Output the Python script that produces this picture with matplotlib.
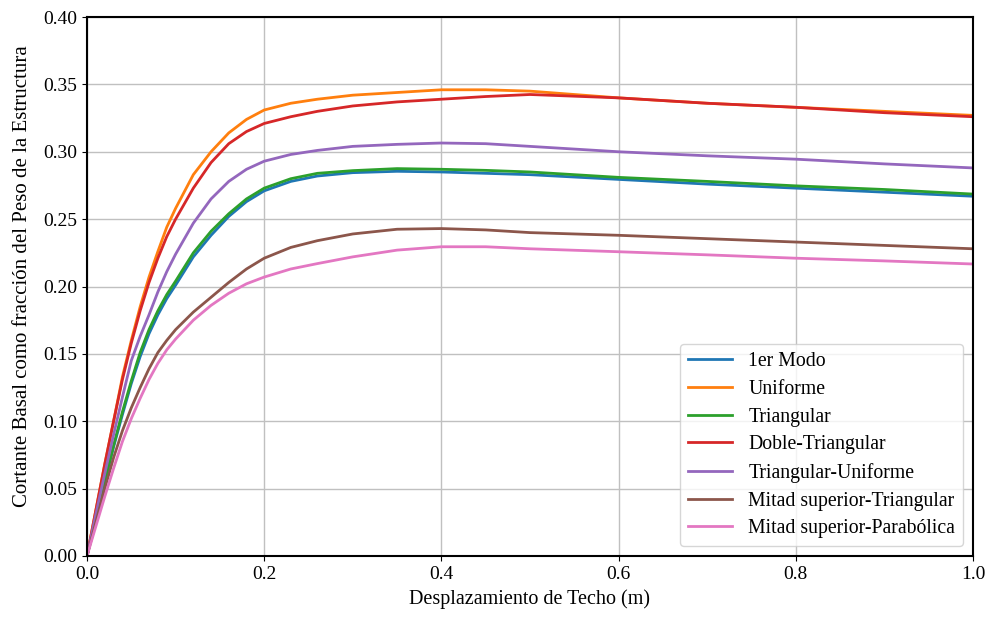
import matplotlib
matplotlib.use("Agg")
import matplotlib.pyplot as plt

plt.rcParams['font.family'] = ['Liberation Serif', 'DejaVu Serif']
plt.rcParams['font.size'] = 14

# desplazamiento de techo (m)
desp = [0, 0.01, 0.02, 0.03, 0.04, 0.05, 0.06, 0.07, 0.08, 0.09, 0.10,
        0.12, 0.14, 0.16, 0.18, 0.20, 0.23, 0.26, 0.30, 0.35, 0.40,
        0.45, 0.50, 0.60, 0.70, 0.80, 0.90, 1.00]

# cortante basal / peso para cada patron de carga
modo1 = [0, 0.028, 0.055, 0.081, 0.105, 0.128, 0.148, 0.165, 0.179, 0.191, 0.201,
         0.222, 0.238, 0.252, 0.263, 0.271, 0.278, 0.282, 0.2845, 0.2855, 0.285,
         0.284, 0.283, 0.2795, 0.276, 0.273, 0.270, 0.267]
uniforme = [0, 0.034, 0.068, 0.100, 0.133, 0.160, 0.185, 0.207, 0.226, 0.244, 0.258,
            0.283, 0.300, 0.314, 0.324, 0.331, 0.336, 0.339, 0.342, 0.344, 0.346,
            0.346, 0.345, 0.340, 0.336, 0.333, 0.330, 0.327]
triangular = [0, 0.028, 0.055, 0.082, 0.107, 0.130, 0.151, 0.168, 0.182, 0.194, 0.204,
              0.225, 0.241, 0.254, 0.265, 0.273, 0.280, 0.284, 0.286, 0.2875, 0.287,
              0.2862, 0.285, 0.281, 0.278, 0.2747, 0.272, 0.2686]
doble_tri = [0, 0.034, 0.068, 0.100, 0.131, 0.158, 0.182, 0.203, 0.221, 0.237, 0.250,
             0.273, 0.292, 0.306, 0.315, 0.321, 0.326, 0.330, 0.334, 0.337, 0.339,
             0.341, 0.3425, 0.340, 0.336, 0.333, 0.329, 0.326]
tri_unif = [0, 0.031, 0.061, 0.090, 0.118, 0.145, 0.163, 0.179, 0.196, 0.211, 0.224,
            0.247, 0.265, 0.278, 0.287, 0.293, 0.298, 0.301, 0.304, 0.3055, 0.3065,
            0.306, 0.304, 0.300, 0.297, 0.2945, 0.291, 0.288]
mitad_tri = [0, 0.025, 0.050, 0.073, 0.093, 0.110, 0.125, 0.139, 0.151, 0.160, 0.168,
             0.181, 0.192, 0.203, 0.213, 0.221, 0.229, 0.234, 0.239, 0.2425, 0.243,
             0.242, 0.240, 0.238, 0.2355, 0.233, 0.2305, 0.228]
mitad_par = [0, 0.022, 0.044, 0.065, 0.085, 0.102, 0.117, 0.131, 0.143, 0.153, 0.161,
             0.175, 0.186, 0.195, 0.202, 0.207, 0.213, 0.217, 0.222, 0.227, 0.2295,
             0.2295, 0.228, 0.2258, 0.2235, 0.221, 0.219, 0.2167]

series = [
    ('1er Modo', modo1),
    ('Uniforme', uniforme),
    ('Triangular', triangular),
    ('Doble-Triangular', doble_tri),
    ('Triangular-Uniforme', tri_unif),
    ('Mitad superior-Triangular', mitad_tri),
    ('Mitad superior-Parabólica', mitad_par),
]

fig, ax = plt.subplots(figsize=(9.91, 6.17), dpi=100)
fig.subplots_adjust(left=0.0878, right=0.9818, top=0.9724, bottom=0.0989)

for nombre, valores in series:
    ax.plot(desp, valores, lw=2, label=nombre)

ax.set_xlim(0, 1)
ax.set_ylim(0, 0.4)
ax.set_xticks([0, 0.2, 0.4, 0.6, 0.8, 1.0])
ax.set_yticks([i * 0.05 for i in range(9)])
ax.yaxis.set_major_formatter(matplotlib.ticker.FormatStrFormatter('%.2f'))
ax.xaxis.set_major_formatter(matplotlib.ticker.FormatStrFormatter('%.1f'))
ax.tick_params(labelsize=14)
ax.grid(True, color='#c0c0c0', lw=1)
for s in ax.spines.values():
    s.set_linewidth(1.5)
    s.set_color('black')

ax.set_xlabel('Desplazamiento de Techo (m)', fontsize=14.5, labelpad=5)
ax.set_ylabel('Cortante Basal como fracción del Peso de la Estructura', fontsize=15)
ax.yaxis.set_label_coords(-0.062, 0.52)
ax.legend(loc='lower right', fontsize=14.2, handlelength=2.2, handletextpad=0.85,
          labelspacing=0.44)

fig.savefig('out.png', dpi=100)
